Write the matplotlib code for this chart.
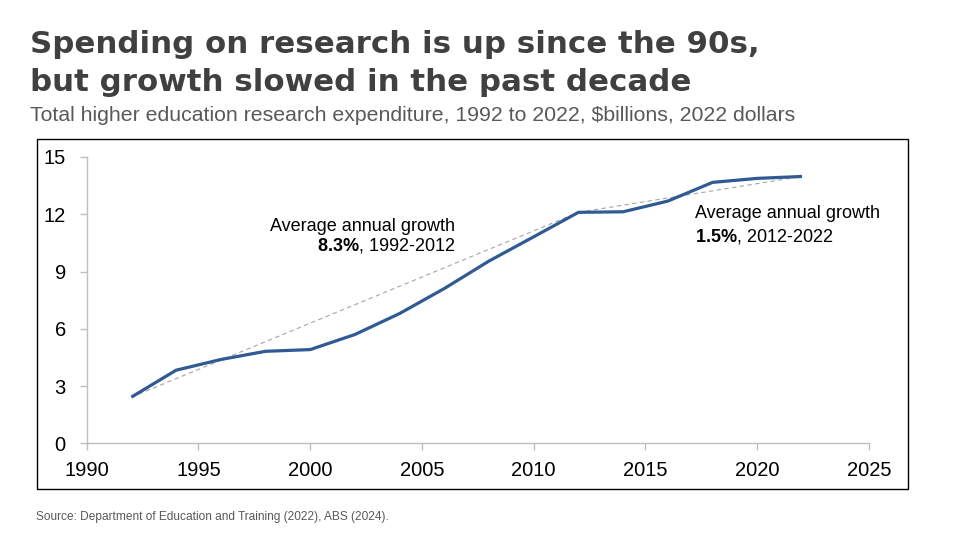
import matplotlib
matplotlib.use("Agg")
from matplotlib import pyplot as plt
from matplotlib.patches import Rectangle

plt.rcParams['font.family'] = ['Liberation Sans', 'DejaVu Sans']
plt.rcParams['mathtext.fontset'] = 'custom'
plt.rcParams['mathtext.rm'] = 'Liberation Sans'
plt.rcParams['mathtext.bf'] = 'Liberation Sans:bold'

# Total higher education research expenditure, $billions (2022 dollars)
years = [1992, 1994, 1996, 1998, 2000, 2002, 2004, 2006, 2008, 2010, 2012, 2014, 2016, 2018, 2020, 2022]
spend = [2.42, 3.83, 4.39, 4.82, 4.91, 5.70, 6.80, 8.11, 9.55, 10.82, 12.10, 12.13, 12.69, 13.67, 13.88, 13.98]

# trend segments (start, end year)
trends = [(1992, 2012), (2012, 2022)]

xticks = [1990, 1995, 2000, 2005, 2010, 2015, 2020, 2025]
yticks = [0, 3, 6, 9, 12, 15]

title_lines = ["Spending on research is up since the 90s,",
               "but growth slowed in the past decade"]
subtitle = "Total higher education research expenditure, 1992 to 2022, $billions, 2022 dollars"
source = "Source: Department of Education and Training (2022), ABS (2024)."

W, H = 960, 540
fig = plt.figure(figsize=(W / 100, H / 100), dpi=100)

def fx(px):
    return px / W

def fy(py):
    return 1 - py / H

# outer chart frame
fig.patches.append(Rectangle((fx(37), fy(489)), fx(908) - fx(37), fy(139) - fy(489),
                             transform=fig.transFigure, fill=False, edgecolor='black',
                             linewidth=1.0))

ax = fig.add_axes([fx(86.7), fy(443.3), fx(869) - fx(86.7), fy(157) - fy(443.3)])

grey = '#bfbfbf'
for s in ['top', 'right']:
    ax.spines[s].set_visible(False)
for s in ['left', 'bottom']:
    ax.spines[s].set_color(grey)
    ax.spines[s].set_linewidth(1.0)

ax.plot(years, spend, color='#2f5a93', linewidth=2.3, solid_capstyle='butt', zorder=3)

for y0, y1 in trends:
    v0 = spend[years.index(y0)]
    v1 = spend[years.index(y1)]
    ax.plot([y0, y1], [v0, v1], color='#a6a6a6', linewidth=0.8, linestyle=(0, (4, 3)), zorder=2)

ax.set_xlim(1990, 2025)
ax.set_ylim(0, 15)
ax.set_xticks(xticks)
ax.set_yticks(yticks)
ax.tick_params(axis='both', direction='out', length=5, width=1.0, color=grey,
               labelsize=14.5, labelcolor='black')
ax.tick_params(axis='x', pad=8)
ax.tick_params(axis='y', pad=10)

ax.text(2006.5, 11.38, "Average annual growth", ha='right', va='center', fontsize=13)
ax.text(2006.5, 10.34, r"$\mathbf{8.3\%}$, 1992-2012", ha='right', va='center', fontsize=13)
ax.text(2017.2, 12.05, "Average annual growth", ha='left', va='center', fontsize=13)
ax.text(2017.2, 10.82, r"$\mathbf{1.5\%}$, 2012-2022", ha='left', va='center', fontsize=13)

fig.text(fx(30), fy(53.3), title_lines[0], fontsize=22.2, fontweight='bold',
         family='DejaVu Sans', color='#404040', ha='left', va='baseline')
fig.text(fx(30), fy(90.7), title_lines[1], fontsize=22.2, fontweight='bold',
         family='DejaVu Sans', color='#404040', ha='left', va='baseline')
fig.text(fx(30), fy(120.7), subtitle, fontsize=15.3, color='#595959',
         ha='left', va='baseline')
fig.text(fx(36), fy(520), source, fontsize=8.6, color='#595959', ha='left', va='baseline')

fig.savefig("out.png", dpi=100)
